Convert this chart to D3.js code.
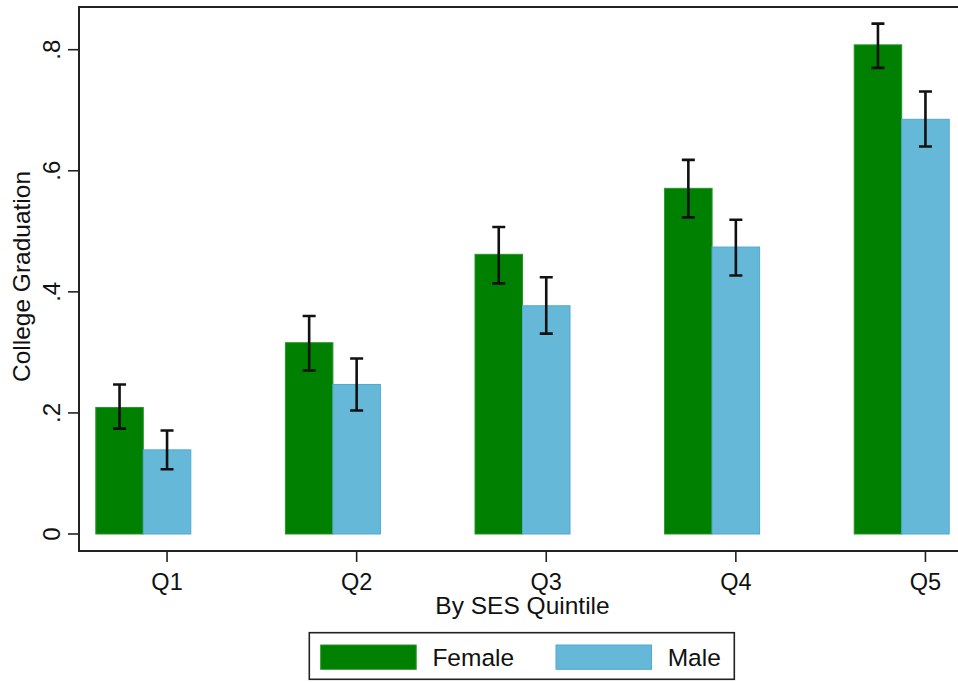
<!DOCTYPE html>
<html>
<head>
<meta charset="utf-8">
<script src="https://cdn.jsdelivr.net/npm/d3@7"></script>
<style>
  html, body { margin: 0; padding: 0; background: #fff; }
  svg { display: block; }
  text { font-family: "Liberation Sans", Arial, sans-serif; fill: #111; }
</style>
</head>
<body>
<div id="chart"></div>
<script>
const categories = ["Q1", "Q2", "Q3", "Q4", "Q5"];
const seriesNames = ["Female", "Male"];
const femaleValues = [0.209, 0.316, 0.462, 0.571, 0.808];
const femaleLow    = [0.174, 0.270, 0.414, 0.523, 0.770];
const femaleHigh   = [0.247, 0.360, 0.507, 0.618, 0.843];
const maleValues   = [0.139, 0.247, 0.377, 0.474, 0.685];
const maleLow      = [0.107, 0.204, 0.331, 0.427, 0.640];
const maleHigh     = [0.171, 0.290, 0.424, 0.519, 0.731];
const yTicks = [0, 0.2, 0.4, 0.6, 0.8];
const yTickLabels = ["0", ".2", ".4", ".6", ".8"];
const xTitle = "By SES Quintile";
const yTitle = "College Graduation";

const W = 958, H = 682;
const colors = { Female: "#008000", Male: "#66b8d8" };
const strokes = { Female: "#2a932a", Male: "#4eaad0" };

const svg = d3.select("#chart").append("svg").attr("width", W).attr("height", H);

const frame = { left: 79, top: 7, right: 966, bottom: 551 };

const y = d3.scaleLinear().domain([0, 0.8]).range([534, 49.7]);
const xGroup = d3.scalePoint().domain(categories).range([143.3, 901.7]);
const barW = 47.5;
const xSub = d3.scaleBand().domain(seriesNames).range([-barW, barW]);
const xTick = d3.scalePoint().domain(categories).range([143.3 + barW / 2, 901.7 + barW / 2]);

svg.append("path")
  .attr("d", `M${frame.right},${frame.top}H${frame.left}V${frame.bottom}H${frame.right}Z`)
  .attr("fill", "none").attr("stroke", "#222").attr("stroke-width", 2);

const rows = categories.map((c, i) => ({
  cat: c,
  series: [
    { name: "Female", v: femaleValues[i], lo: femaleLow[i], hi: femaleHigh[i] },
    { name: "Male", v: maleValues[i], lo: maleLow[i], hi: maleHigh[i] }
  ]
}));

const groups = svg.selectAll("g.grp").data(rows).join("g")
  .attr("class", "grp")
  .attr("transform", d => `translate(${xGroup(d.cat)},0)`);

groups.selectAll("rect").data(d => d.series).join("rect")
  .attr("x", d => xSub(d.name))
  .attr("width", xSub.bandwidth())
  .attr("y", d => y(d.v))
  .attr("height", d => y(0) - y(d.v))
  .attr("fill", d => colors[d.name])
  .attr("stroke", d => strokes[d.name])
  .attr("stroke-width", 1);

const capW = 13;
const eb = groups.selectAll("g.eb").data(d => d.series).join("g").attr("class", "eb")
  .attr("transform", d => `translate(${xSub(d.name) + xSub.bandwidth() / 2},0)`);
eb.append("path")
  .attr("d", d => `M0,${y(d.lo)}V${y(d.hi)}M${-capW/2},${y(d.lo)}H${capW/2}M${-capW/2},${y(d.hi)}H${capW/2}`)
  .attr("fill", "none").attr("stroke", "#111").attr("stroke-width", 2.6);

const yAxis = svg.append("g");
yAxis.selectAll("line").data(yTicks).join("line")
  .attr("x1", 68).attr("x2", frame.left)
  .attr("y1", d => y(d)).attr("y2", d => y(d))
  .attr("stroke", "#222").attr("stroke-width", 1.6);
yAxis.selectAll("text").data(yTicks).join("text")
  .attr("transform", d => `translate(60,${y(d)}) rotate(-90)`)
  .attr("text-anchor", "middle")
  .attr("font-size", 24)
  .text((d, i) => yTickLabels[i]);

const xAxis = svg.append("g");
xAxis.selectAll("line").data(categories).join("line")
  .attr("x1", d => xTick(d)).attr("x2", d => xTick(d))
  .attr("y1", frame.bottom).attr("y2", frame.bottom + 11)
  .attr("stroke", "#222").attr("stroke-width", 1.6);
xAxis.selectAll("text").data(categories).join("text")
  .attr("x", d => xTick(d)).attr("y", 589.5)
  .attr("text-anchor", "middle").attr("font-size", 23.5)
  .text(d => d);

svg.append("text").attr("x", 522.5).attr("y", 614)
  .attr("text-anchor", "middle").attr("font-size", 24.5).text(xTitle);
svg.append("text").attr("transform", `translate(30,276.5) rotate(-90)`)
  .attr("text-anchor", "middle").attr("font-size", 24.5).text(yTitle);

const lg = svg.append("g");
lg.append("rect").attr("x", 309.3).attr("y", 632.7).attr("width", 425).attr("height", 46.6)
  .attr("fill", "#fff").attr("stroke", "#222").attr("stroke-width", 1.6);
const legendX = { Female: 320.7, Male: 556 };
seriesNames.forEach(n => {
  lg.append("rect").attr("x", legendX[n]).attr("y", 645).attr("width", 95.5).attr("height", 24.3)
    .attr("fill", colors[n]).attr("stroke", strokes[n]).attr("stroke-width", 1);
  lg.append("text").attr("x", legendX[n] + 111.7).attr("y", 665.5)
    .attr("font-size", 24.5).text(n);
});
</script>
</body>
</html>
